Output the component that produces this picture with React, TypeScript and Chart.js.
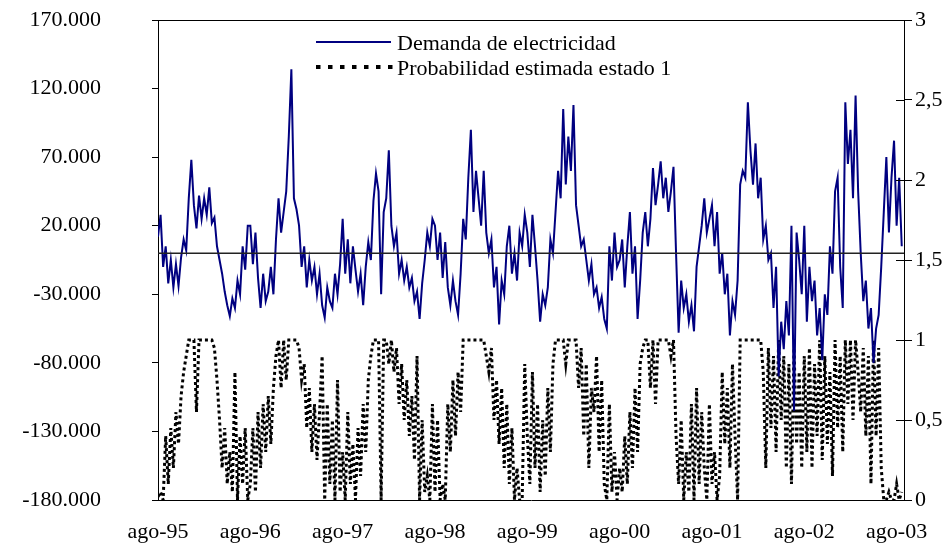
import React, { useEffect, useRef } from "react";
import { Chart, registerables } from "chart.js";

Chart.register(...registerables);

// ---- Data (demand in thousands of units, 36 samples per year, starting ago-95) ----
const POINTS_PER_YEAR = 36;
const X_MAX = 8.08;

const xTickLabels = ["ago-95", "ago-96", "ago-97", "ago-98", "ago-99", "ago-00", "ago-01", "ago-02", "ago-03"];

const demandLabel = "Demanda de electricidad";
const probLabel = "Probabilidad estimada estado 1";

const demand1995 = [12, 28, -10, 5, -22, -5, -25, -8, -24, -3, 10, 2, 40, 68, 35, 18, 42, 25, 40, 28, 48, 22, 26, 5, -5, -15, -28, -38, -46, -33, -40, -20, -30, 5, -12, 20];
const demand1996 = [20, -8, 15, -18, -40, -15, -35, -28, -10, -30, 10, 40, 15, 30, 45, 85, 134, 40, 32, 20, -10, 5, -25, -5, -20, -10, -30, -15, -38, -47, -25, -35, -40, -15, -30, -8];
const demand1997 = [25, -15, 10, -22, 5, -12, -28, -15, -38, -10, 8, -5, 38, 58, 45, -30, 30, 40, 75, 20, 5, 15, -15, -5, -20, -10, -25, -18, -35, -28, -48, -22, -5, 15, 5, 25];
const demand1998 = [20, -5, 15, -18, 8, -25, -38, -20, -35, -45, -15, 25, 10, 55, 90, 30, 60, 40, 20, 60, 15, 0, 10, -25, -10, -52, -20, -30, 5, 20, -15, 0, -20, 15, 5, 28];
const demand1999 = [15, -10, 28, 5, -20, -50, -30, -38, -25, 10, 0, 30, 60, 40, 105, 50, 85, 60, 108, 35, 20, 5, 10, -5, -20, -8, -30, -25, -40, -32, -48, -55, 5, -20, 15, -10];
const demand2000 = [-5, 10, -25, 5, 30, -15, 5, -48, -20, 15, 30, 5, 25, 62, 35, 50, 67, 40, 55, 30, 45, 63, 0, -58, -20, -40, -30, -50, -38, -57, -10, 5, 20, 40, 15, 25];
const demand2001 = [35, 5, 30, -15, 0, -30, -15, -60, -35, -45, -20, 50, 60, 55, 110, 75, 50, 80, 40, 55, 10, 20, -5, 0, -40, -10, -90, -50, -70, -35, -60, 20, -115, 15, -5, -30];
const demand2002 = [20, -50, -10, -35, -20, -60, -40, -78, -30, -45, 5, -15, 45, 55, -10, -40, 110, 65, 90, 40, 115, 45, 0, -35, -20, -55, -40, -80, -55, -45, -10, 30, 70, 15, 55, 82];
const demand2003 = [20, 55, 5];

const prob1995 = [0.02, 0.05, 0.0, 0.4, 0.1, 0.45, 0.2, 0.55, 0.35, 0.65, 0.8, 0.9, 1, 1, 1, 0.55, 1, 1, 1, 1, 1, 1, 0.95, 0.75, 0.5, 0.2, 0.45, 0.1, 0.3, 0.05, 0.8, 0.0, 0.4, 0.1, 0.45, 0.0];
const prob1996 = [0.1, 0.45, 0.05, 0.55, 0.2, 0.6, 0.3, 0.65, 0.35, 0.7, 0.9, 1, 0.7, 1, 0.75, 1, 1, 1, 1, 0.95, 0.75, 0.85, 0.45, 0.7, 0.3, 0.6, 0.25, 0.55, 0.9, 0.0, 0.6, 0.1, 0.5, 0.0, 0.75, 0.05];
const prob1997 = [0.3, 0.0, 0.55, 0.1, 0.35, 0.0, 0.45, 0.15, 0.6, 0.3, 0.75, 0.9, 1, 1, 1, 0.0, 1, 1, 0.85, 1, 0.8, 0.95, 0.6, 0.85, 0.5, 0.75, 0.4, 0.65, 0.25, 0.9, 0.0, 0.5, 0.05, 0.15, 0.0, 0.6];
const prob1998 = [0.05, 0.5, 0.0, 0.1, 0.0, 0.6, 0.3, 0.75, 0.4, 0.8, 0.55, 1, 1, 1, 1, 1, 1, 1, 1, 1, 0.9, 0.8, 0.95, 0.5, 0.75, 0.35, 0.7, 0.2, 0.6, 0.1, 0.45, 0.0, 0.2, 0.0, 0.0, 0.85];
const prob1999 = [0.4, 0.1, 0.8, 0.2, 0.6, 0.05, 0.5, 0.15, 0.7, 0.3, 0.85, 1, 1, 1, 1, 0.85, 1, 1, 1, 1, 0.7, 0.95, 0.4, 0.85, 0.2, 0.7, 0.55, 0.9, 0.3, 0.75, 0.1, 0.0, 0.6, 0.05, 0.3, 0.0];
const prob2000 = [0.2, 0.05, 0.4, 0.1, 0.55, 0.2, 0.7, 0.3, 0.85, 0.95, 1, 1, 0.7, 1, 0.6, 1, 1, 1, 1, 1, 0.9, 1, 0.4, 0.1, 0.5, 0.0, 0.3, 0.05, 0.6, 0.0, 0.7, 0.1, 0.55, 0.2, 0.0, 0.6];
const prob2001 = [0.1, 0.3, 0.0, 0.15, 0.8, 0.35, 0.7, 0.2, 0.85, 0.4, 0.0, 1, 1, 1, 1, 1, 1, 1, 1, 1, 0.8, 0.2, 0.95, 0.45, 0.9, 0.3, 1, 0.5, 0.9, 0.2, 0.85, 0.1, 0.95, 0.35, 0.8, 0.2];
const prob2002 = [0.9, 0.3, 0.95, 0.2, 0.85, 0.4, 1, 0.25, 0.9, 0.35, 0.8, 0.15, 1, 0.45, 0.9, 0.3, 1, 0.6, 1, 0.5, 1, 0.8, 0.55, 0.95, 0.4, 0.9, 0.1, 1, 0.4, 0.95, 0.2, 0.0, 0.0, 0.05, 0.0, 0.0];
const prob2003 = [0.1, 0.0, 0.05];

const demandSeries = [
  ...demand1995, ...demand1996, ...demand1997, ...demand1998,
  ...demand1999, ...demand2000, ...demand2001, ...demand2002, ...demand2003,
];
const probSeries = [
  ...prob1995, ...prob1996, ...prob1997, ...prob1998,
  ...prob1999, ...prob2000, ...prob2001, ...prob2002, ...prob2003,
];

const FONT = "'Liberation Serif', 'Times New Roman', serif";
const FONT_SIZE = 22;

function fmtThousands(v: number): string {
  const s = Math.abs(Math.round(v)).toString().replace(/\B(?=(\d{3})+(?!\d))/g, ".");
  return (v < 0 ? "-" : "") + s;
}
function fmtDecimal(v: number): string {
  return String(Math.round(v * 10) / 10).replace(".", ",");
}

const extrasPlugin = {
  id: "extras",
  afterDatasetsDraw(chart: any) {
    const { ctx, chartArea } = chart;
    ctx.save();
    // top frame line
    ctx.strokeStyle = "#000";
    ctx.lineWidth = 1;
    ctx.beginPath();
    ctx.moveTo(chartArea.left, Math.round(chartArea.top) + 0.5);
    ctx.lineTo(chartArea.right, Math.round(chartArea.top) + 0.5);
    ctx.stroke();
    // inner half of the right-axis cross ticks
    const yR = chart.scales.yRight;
    yR.ticks.forEach((t: any) => {
      const y = Math.round(yR.getPixelForValue(t.value)) + 0.5;
      ctx.beginPath();
      ctx.moveTo(chartArea.right - 8, y);
      ctx.lineTo(chartArea.right, y);
      ctx.stroke();
    });
    // legend
    const ds = chart.data.datasets;
    ctx.font = `${FONT_SIZE}px ${FONT}`;
    ctx.fillStyle = "#000";
    ctx.textBaseline = "alphabetic";
    ctx.textAlign = "left";
    ctx.strokeStyle = "#000080";
    ctx.lineWidth = 2;
    ctx.beginPath();
    ctx.moveTo(316, 42);
    ctx.lineTo(391, 42);
    ctx.stroke();
    ctx.fillText(ds[1].label, 397, 50);
    ctx.strokeStyle = "#000";
    ctx.lineWidth = 4;
    ctx.setLineDash([4.5, 7.5]);
    ctx.beginPath();
    ctx.moveTo(316, 67);
    ctx.lineTo(394, 67);
    ctx.stroke();
    ctx.setLineDash([]);
    ctx.fillText(ds[2].label, 397, 75);
    ctx.restore();
  },
};

const fixY = (width: number) => (s: any) => {
  s.width = width;
  s.paddingTop = 0;
  s.paddingBottom = 0;
};

export default function App() {
  const canvasRef = useRef<HTMLCanvasElement | null>(null);

  useEffect(() => {
    if (!canvasRef.current) return;
    Chart.defaults.font.family = FONT;
    Chart.defaults.font.size = FONT_SIZE;
    Chart.defaults.color = "#000";

    const chart = new Chart(canvasRef.current, {
      type: "line",
      data: {
        datasets: [
          {
            label: "cero",
            data: [{ x: 0, y: 0 }, { x: X_MAX, y: 0 }],
            borderColor: "#222",
            borderWidth: 1.5,
            yAxisID: "y",
            pointRadius: 0,
          },
          {
            label: demandLabel,
            data: demandSeries.map((v, i) => ({ x: i / POINTS_PER_YEAR, y: v * 1000 })),
            borderColor: "#000080",
            borderWidth: 2,
            yAxisID: "y",
            pointRadius: 0,
          },
          {
            label: probLabel,
            data: probSeries.map((v, i) => ({ x: i / POINTS_PER_YEAR, y: v })),
            borderColor: "#000",
            borderWidth: 3,
            borderDash: [3, 3],
            yAxisID: "yRight",
            pointRadius: 0,
          },
        ],
      },
      options: {
        responsive: false,
        maintainAspectRatio: false,
        animation: false,
        layout: { padding: { top: 20, left: 0, right: 0, bottom: 0 }, autoPadding: false },
        plugins: { legend: { display: false }, tooltip: { enabled: false } },
        elements: { line: { tension: 0 }, point: { radius: 0 } },
        scales: {
          x: {
            type: "linear",
            min: 0,
            max: X_MAX,
            grid: { display: false, drawTicks: false },
            border: { display: true, color: "#000", width: 1 },
            ticks: {
              stepSize: 1,
              autoSkip: false,
              maxRotation: 0,
              minRotation: 0,
              includeBounds: false,
              padding: 19,
              color: "#000",
              callback: (v: any) => {
                const n = Number(v);
                return Number.isInteger(n) ? xTickLabels[n] ?? "" : "";
              },
            },
            afterFit: (s: any) => {
              s.height = 47;
              s.paddingLeft = 0;
              s.paddingRight = 0;
            },
          },
          y: {
            position: "left",
            min: -180000,
            max: 170000,
            ticks: { stepSize: 50000, padding: 51, color: "#000", callback: (v: any) => fmtThousands(Number(v)) },
            grid: { drawOnChartArea: false, drawTicks: true, tickLength: 6, color: "#000" },
            border: { display: true, color: "#000", width: 1 },
            afterFit: fixY(158),
          },
          yRight: {
            position: "right",
            min: 0,
            max: 3,
            ticks: { stepSize: 0.5, padding: 3, color: "#000", callback: (v: any) => fmtDecimal(Number(v)) },
            grid: { drawOnChartArea: false, drawTicks: true, tickLength: 8, color: "#000" },
            border: { display: true, color: "#000", width: 1 },
            afterFit: fixY(48),
          },
        },
      },
      plugins: [extrasPlugin],
    } as any);

    return () => chart.destroy();
  }, []);

  return (
    <div style={{ position: "absolute", left: 0, top: 0, width: 952, height: 547, background: "#fff" }}>
      <canvas ref={canvasRef} width={952} height={547} style={{ display: "block", width: 952, height: 547 }} />
    </div>
  );
}
